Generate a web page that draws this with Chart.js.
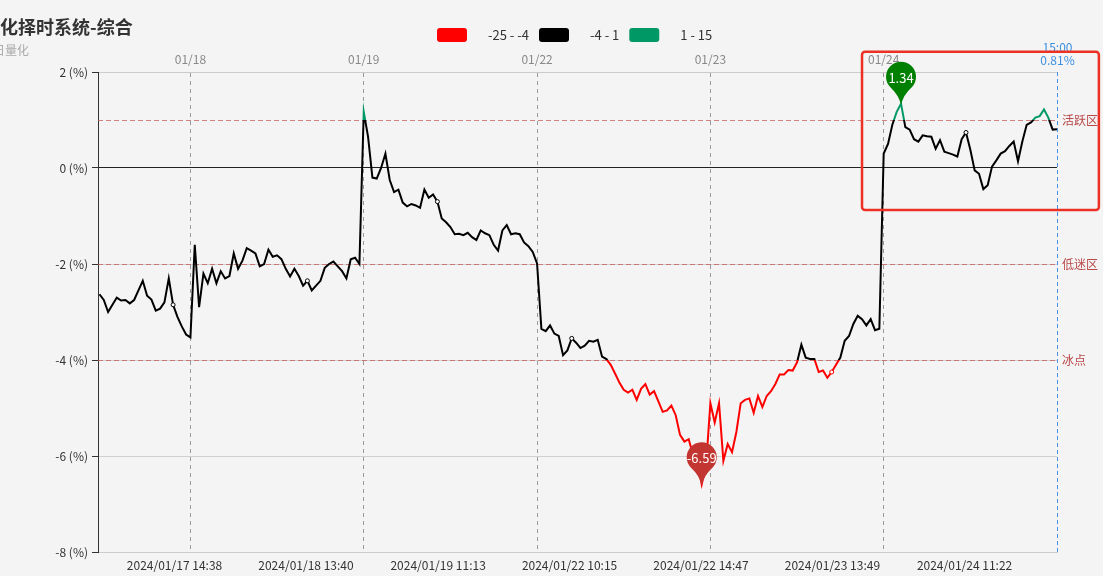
<!DOCTYPE html>
<html>
<head>
<meta charset="utf-8">
<script src="https://cdn.jsdelivr.net/npm/chart.js@4.4.1/dist/chart.umd.min.js"></script>
<style>
  html, body { margin: 0; padding: 0; background: #f4f4f4; }
  #wrap { width: 1103px; height: 576px; position: relative; }
</style>
</head>
<body>
<div id="wrap"><canvas id="chart"></canvas></div>
<script>
// trading minutes counted from 01/17 09:30 (240 per day)
const startMinute = 114;
const stepMinutes = 6;
const values = [
  // 01/17
  -2.63, -2.75, -3.0, -2.85, -2.7, -2.76, -2.75, -2.82, -2.75, -2.55,
  -2.35, -2.66, -2.74, -2.97, -2.93, -2.8, -2.3, -2.85, -3.1, -3.3,
  -3.47, -3.53,
  // 01/18
  -1.6, -2.9, -2.2, -2.4, -2.1, -2.4, -2.15, -2.3, -2.25, -1.78,
  -2.1, -1.93, -1.67, -1.72, -1.78, -2.05, -2.0, -1.7, -1.85, -1.82,
  -1.9, -2.1, -2.26, -2.1, -2.25, -2.45, -2.35, -2.55, -2.45, -2.35,
  -2.08, -2.0, -1.95, -2.05, -2.15, -2.3, -1.9, -1.87, -2.0,
  // 01/19
  1.17, 0.65, -0.2, -0.22, 0.0, 0.3, -0.25, -0.5, -0.45, -0.72,
  -0.8, -0.75, -0.78, -0.83, -0.45, -0.62, -0.55, -0.7, -1.05, -1.13,
  -1.23, -1.38, -1.37, -1.4, -1.35, -1.44, -1.5, -1.3, -1.36, -1.4,
  -1.6, -1.72, -1.3, -1.19, -1.38, -1.36, -1.38, -1.55, -1.63, -1.75,
  -1.99,
  // 01/22
  -3.35, -3.4, -3.28, -3.45, -3.5, -3.9, -3.8, -3.55, -3.64, -3.75,
  -3.7, -3.6, -3.62, -3.58, -3.93, -3.98, -4.1, -4.28, -4.47, -4.62,
  -4.68, -4.62, -4.83, -4.6, -4.5, -4.72, -4.65, -4.86, -5.08, -5.05,
  -4.95, -5.15, -5.56, -5.7, -5.65, -5.98, -6.12, -6.59, -6.2,
  // 01/23
  -4.9, -5.3, -4.9, -6.1, -5.75, -5.92, -5.5, -4.9, -4.83, -4.8,
  -5.1, -4.75, -4.98, -4.75, -4.65, -4.5, -4.3, -4.3, -4.21, -4.22,
  -4.05, -3.68, -3.95, -3.98, -3.98, -4.25, -4.22, -4.37, -4.25, -4.1,
  -3.95, -3.6, -3.5, -3.25, -3.08, -3.15, -3.28, -3.15, -3.38, -3.35,
  0.3,
  // 01/24
  0.5, 0.9, 1.17, 1.34, 0.85, 0.8, 0.6, 0.55, 0.68, 0.66,
  0.65, 0.4, 0.58, 0.34, 0.31, 0.28, 0.24, 0.6, 0.74, 0.38,
  -0.05, -0.12, -0.44, -0.36, 0.03, 0.16, 0.3, 0.35, 0.46, 0.55,
  0.14, 0.55, 0.9, 0.95, 1.05, 1.08, 1.22, 1.05, 0.8, 0.81
];

const dayStarts = [240, 480, 720, 960, 1200];
const dayLabels = ['01/18', '01/19', '01/22', '01/23', '01/24'];
const timeTicks = [218, 400, 583, 765, 947, 1129, 1312];
const timeLabels = ['2024/01/17 14:38', '2024/01/18 13:40', '2024/01/19 11:13', '2024/01/22 10:15',
  '2024/01/22 14:47', '2024/01/23 13:49', '2024/01/24 11:22'];
const lastTime = '15:00';

const zoneValues = [1, -2, -4];
const zoneLabels = ['活跃区', '低迷区', '冰点'];

const pieceLabels = ['-25 - -4', '-4 - 1', '1 - 15'];
const pieceColors = ['#ff0000', '#000000', '#009966'];

// hand-drawn highlight box (minutes / percent)
const highlightBox = { from: 1170, to: 1498, high: 2.42, low: -0.875 };

const FONT = '"Noto Sans CJK SC", "Noto Sans", sans-serif';
const points = values.map((v, i) => ({ x: startMinute + i * stepMinutes, y: v }));

let hiIdx = 0, loIdx = 0;
points.forEach((p, i) => {
  if (p.y > points[hiIdx].y) hiIdx = i;
  if (p.y < points[loIdx].y) loIdx = i;
});
const markIdx = new Set(timeTicks.map(t => Math.round((t - startMinute) / stepMinutes)));
markIdx.delete(hiIdx);
markIdx.delete(loIdx);

function lineColor(context) {
  const chart = context.chart;
  const area = chart.chartArea;
  if (!area) return '#000';
  const ys = chart.scales.y;
  const h = area.bottom - area.top;
  const p1 = (ys.getPixelForValue(1) - area.top) / h;
  const p2 = (ys.getPixelForValue(-4) - area.top) / h;
  const g = chart.ctx.createLinearGradient(0, area.top, 0, area.bottom);
  g.addColorStop(0, pieceColors[2]);
  g.addColorStop(p1, pieceColors[2]);
  g.addColorStop(p1, pieceColors[1]);
  g.addColorStop(p2, pieceColors[1]);
  g.addColorStop(p2, pieceColors[0]);
  g.addColorStop(1, pieceColors[0]);
  return g;
}

function drawPin(ctx, x, y, color, text) {
  const r = 15, cy = y - 27, a = 0.75;
  ctx.save();
  ctx.fillStyle = color;
  ctx.beginPath();
  ctx.arc(x, cy, r, Math.PI / 2 + a, Math.PI / 2 - a + Math.PI * 2);
  ctx.quadraticCurveTo(x + 2.5, cy + r + 3, x, y + 1);
  ctx.quadraticCurveTo(x - 2.5, cy + r + 3, x - r * Math.sin(a), cy + r * Math.cos(a));
  ctx.closePath();
  ctx.fill();
  ctx.fillStyle = '#fff';
  ctx.font = '13px ' + FONT;
  ctx.textAlign = 'center';
  ctx.textBaseline = 'middle';
  ctx.fillText(text, x, cy + 1);
  ctx.restore();
}

const decor = {
  id: 'decor',
  beforeDatasetsDraw(chart) {
    const { ctx, chartArea: area, scales } = chart;
    ctx.save();
    // zone lines
    zoneValues.forEach((v, i) => {
      const py = Math.round(scales.y.getPixelForValue(v)) + 0.5;
      ctx.setLineDash([5, 3]);
      ctx.strokeStyle = 'rgba(200,90,90,0.75)';
      ctx.lineWidth = 1;
      ctx.beginPath();
      ctx.moveTo(area.left, py);
      ctx.lineTo(area.right, py);
      ctx.stroke();
      ctx.setLineDash([]);
      ctx.fillStyle = '#b9484a';
      ctx.font = '12px ' + FONT;
      ctx.textAlign = 'left';
      ctx.textBaseline = 'middle';
      ctx.fillText(zoneLabels[i], area.right + 5, py);
    });
    // last value marker
    const last = points[points.length - 1];
    const px = Math.round(scales.x.getPixelForValue(last.x)) + 0.5;
    ctx.setLineDash([4, 3]);
    ctx.strokeStyle = '#4a90e2';
    ctx.beginPath();
    ctx.moveTo(px, area.top);
    ctx.lineTo(px, area.bottom);
    ctx.stroke();
    ctx.setLineDash([]);
    ctx.fillStyle = '#3d8fe0';
    ctx.font = '12px ' + FONT;
    ctx.textAlign = 'center';
    ctx.textBaseline = 'middle';
    ctx.fillText(lastTime, px, area.top - 25);
    ctx.fillText(last.y.toFixed(2) + '%', px, area.top - 12);
    ctx.restore();
  },
  afterDatasetsDraw(chart) {
    const { ctx, scales } = chart;
    const hi = points[hiIdx], lo = points[loIdx];
    drawPin(ctx, scales.x.getPixelForValue(hi.x), scales.y.getPixelForValue(hi.y), '#008000', hi.y.toFixed(2));
    drawPin(ctx, scales.x.getPixelForValue(lo.x), scales.y.getPixelForValue(lo.y), '#c23531', lo.y.toFixed(2));
  },
  afterDraw(chart) {
    const { ctx, scales } = chart;
    ctx.save();
    // title
    ctx.fillStyle = '#333';
    ctx.font = 'bold 18px ' + FONT;
    ctx.textAlign = 'left';
    ctx.textBaseline = 'middle';
    ctx.fillText('化择时系统-综合', 0, 27);
    ctx.fillStyle = '#aaa';
    ctx.font = '12px ' + FONT;
    ctx.fillText('日量化', -7, 50);
    // legend
    let lx = 437;
    ctx.font = '13px ' + FONT;
    pieceLabels.forEach((lab, i) => {
      ctx.fillStyle = pieceColors[i];
      ctx.beginPath();
      ctx.roundRect(lx, 28, 30, 14, 3);
      ctx.fill();
      lx += 51;
      ctx.fillStyle = '#333';
      ctx.fillText(lab, lx, 35);
      lx += ctx.measureText(lab).width + 10;
    });
    // highlight box
    const x0 = scales.x.getPixelForValue(highlightBox.from);
    const x1 = scales.x.getPixelForValue(highlightBox.to);
    const y0 = scales.y.getPixelForValue(highlightBox.high);
    const y1 = scales.y.getPixelForValue(highlightBox.low);
    ctx.strokeStyle = '#ec3124';
    ctx.lineWidth = 2.5;
    ctx.beginPath();
    ctx.roundRect(x0, y0, x1 - x0, y1 - y0, 3);
    ctx.stroke();
    ctx.restore();
  }
};

new Chart('chart', {
  type: 'line',
  data: {
    datasets: [{
      data: points,
      borderColor: lineColor,
      borderWidth: 2,
      tension: 0,
      pointRadius: c => markIdx.has(c.dataIndex) ? 2 : 0,
      pointBackgroundColor: '#fff',
      pointBorderColor: lineColor,
      pointBorderWidth: 1
    }]
  },
  options: {
    responsive: true,
    maintainAspectRatio: false,
    animation: false,
    layout: { padding: { top: 48, right: 46, left: 0, bottom: 0 } },
    plugins: { legend: { display: false }, tooltip: { enabled: false } },
    scales: {
      x: {
        type: 'linear', position: 'bottom', min: 112, max: 1440,
        afterBuildTicks: s => { s.ticks = timeTicks.map(v => ({ value: v })); },
        afterFit: s => { s.height = 24; },
        grid: { display: false, drawTicks: false },
        border: { color: '#ccc' },
        ticks: {
          autoSkip: false, maxRotation: 0, padding: 6, color: '#333',
          font: { family: FONT, size: 12 },
          callback: (v, i) => timeLabels[i]
        }
      },
      x2: {
        type: 'linear', position: 'top', min: 112, max: 1440,
        afterBuildTicks: s => { s.ticks = dayStarts.map(v => ({ value: v })); },
        afterFit: s => { s.height = 24; },
        grid: { color: '#999', drawTicks: false },
        border: { color: '#ccc', dash: [4, 4] },
        ticks: {
          autoSkip: false, maxRotation: 0, padding: 5, color: '#888',
          font: { family: FONT, size: 12 },
          callback: (v, i) => dayLabels[i]
        }
      },
      y: {
        min: -8, max: 2,
        afterFit: s => { s.width = 98; },
        grid: {
          color: c => c.tick && c.tick.value === 0 ? '#222' : '#d0d0d0',
          tickColor: '#333', tickLength: 6
        },
        border: { color: '#333' },
        ticks: {
          stepSize: 2, padding: 4, color: '#333',
          font: { family: FONT, size: 12 },
          callback: v => v + ' (%)'
        }
      }
    }
  },
  plugins: [decor]
});
</script>
</body>
</html>
